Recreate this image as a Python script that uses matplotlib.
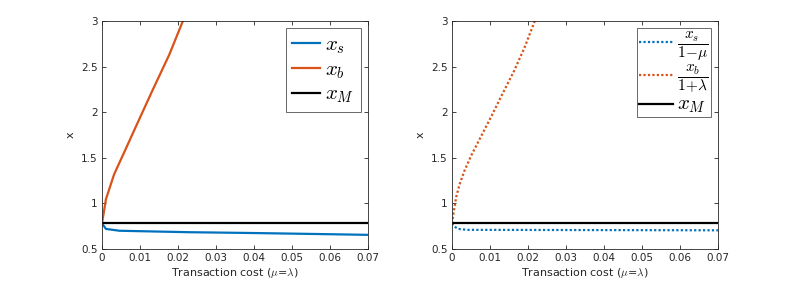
import matplotlib
matplotlib.use("Agg")
import matplotlib.pyplot as plt

plt.rcParams['mathtext.fontset'] = 'cm'
plt.rcParams['font.family'] = ['DejaVu Sans']

# Left panel data
cost_b = [0.0, 0.00105, 0.0032, 0.0059, 0.0089, 0.0133, 0.0177, 0.0212, 0.023]
xb = [0.78, 1.047, 1.32, 1.565, 1.84, 2.24, 2.63, 2.99, 3.15]
cost_s = [0.0, 0.00105, 0.0046, 0.023, 0.04, 0.06, 0.07]
xs = [0.78, 0.72, 0.70, 0.684, 0.675, 0.662, 0.655]

# Right panel data
cost_b2 = [0.0, 0.0005, 0.0011, 0.002, 0.0033, 0.005, 0.0077, 0.0103, 0.0129,
           0.0163, 0.019, 0.0217, 0.023]
xb2 = [0.78, 0.92, 1.07, 1.21, 1.36, 1.52, 1.74, 1.95, 2.17, 2.45, 2.70, 2.99, 3.08]
cost_s2 = [0.0, 0.0003, 0.0016, 0.004, 0.03, 0.07]
xs2 = [0.78, 0.756, 0.72, 0.71, 0.708, 0.705]

xM = 0.78
xlim = [0, 0.07]

blue = '#0072BD'
orange = '#D95319'

fig = plt.figure(figsize=(7.93, 2.81), dpi=100)
ax1 = fig.add_axes([0.1286, 0.1139, 0.3354, 0.8114])
ax2 = fig.add_axes([0.570, 0.1139, 0.3354, 0.8114])

ax1.plot(cost_s, xs, color=blue, lw=1.6, label=r'$x_s$')
ax1.plot(cost_b, xb, color=orange, lw=1.6, label=r'$x_b$')
ax1.plot(xlim, [xM, xM], color='black', lw=1.6, label=r'$x_M$')

ax2.plot(cost_s2, xs2, color=blue, lw=1.6, ls=(0, (1, 1)), label=r'$\dfrac{x_s}{1\!-\!\mu}$')
ax2.plot(cost_b2, xb2, color=orange, lw=1.6, ls=(0, (1, 1)), label=r'$\dfrac{x_b}{1\!+\!\lambda}$')
ax2.plot(xlim, [xM, xM], color='black', lw=1.6, label=r'$x_M$')

for ax in (ax1, ax2):
    ax.set_xlim(xlim)
    ax.set_ylim(0.5, 3)
    ax.set_xticks([0, 0.01, 0.02, 0.03, 0.04, 0.05, 0.06, 0.07])
    ax.set_xticklabels(['0', '0.01', '0.02', '0.03', '0.04', '0.05', '0.06', '0.07'])
    ax.set_yticks([0.5, 1, 1.5, 2, 2.5, 3])
    ax.set_yticklabels(['0.5', '1', '1.5', '2', '2.5', '3'])
    ax.tick_params(direction='in', top=True, right=True, labelsize=7.5, length=3,
                   width=0.6, colors='#262626', pad=3)
    for s in ax.spines.values():
        s.set_linewidth(0.6)
        s.set_color('#262626')
    ax.set_xlabel(r'Transaction cost ($\mu$=$\lambda$)', fontsize=8, color='#262626', labelpad=2)
    ax.set_ylabel('x', fontsize=8, color='#262626', labelpad=4)

leg1 = ax1.legend(loc='upper right', fontsize=15, frameon=True, fancybox=False,
                  edgecolor='#262626', handlelength=1.35, borderpad=0.3,
                  labelspacing=0.15, handletextpad=0.25, borderaxespad=0.35)
leg1.get_frame().set_linewidth(0.6)
leg2 = ax2.legend(loc='upper right', fontsize=11, frameon=True, fancybox=False,
                  edgecolor='#262626', handlelength=2.2, borderpad=0.15,
                  labelspacing=0.0, handletextpad=0.3, borderaxespad=0.45)
leg2.get_texts()[2].set_fontsize(15)
leg2.get_frame().set_linewidth(0.6)

fig.savefig('out.png', dpi=100)
